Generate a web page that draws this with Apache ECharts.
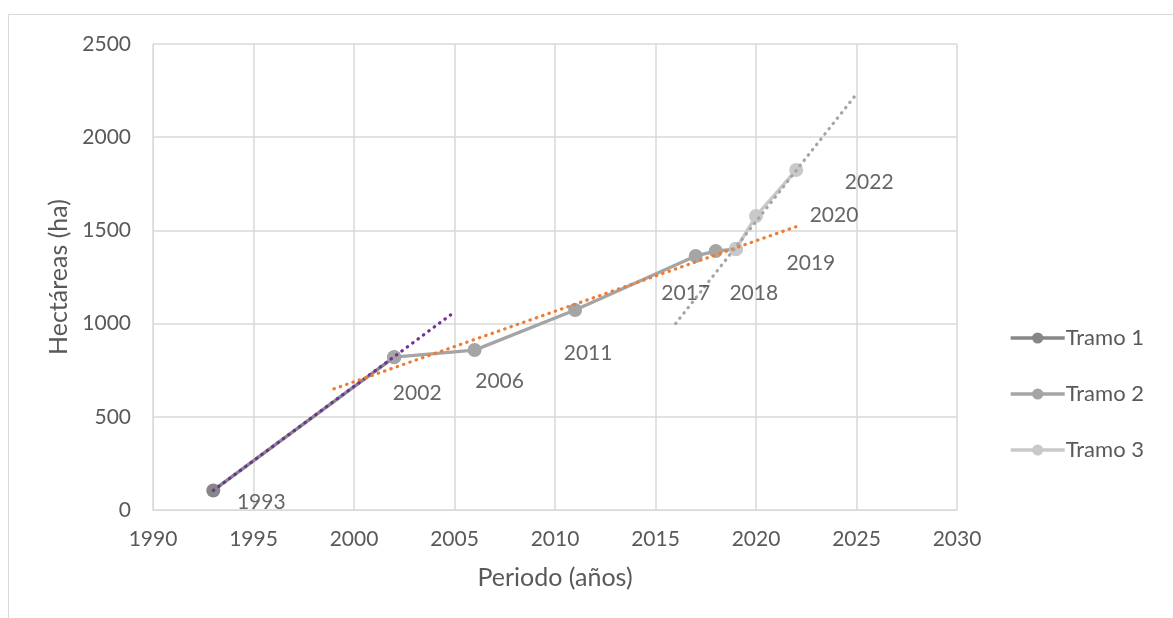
<!DOCTYPE html>
<html>
<head>
<meta charset="utf-8">
<script src="https://cdn.jsdelivr.net/npm/echarts@6/dist/echarts.min.js"></script>
<style>
html,body{margin:0;padding:0;background:#fff;}
#chart{width:1173px;height:618px;}
</style>
</head>
<body>
<div id="chart"></div>
<script>
// Data
const tramo1Years = [1993, 2002];
const tramo1Values = [105, 820];
const tramo2Years = [2002, 2006, 2011, 2017, 2018, 2019];
const tramo2Values = [820, 858, 1073, 1363, 1389, 1400];
const tramo3Years = [2019, 2020, 2022];
const tramo3Values = [1400, 1577, 1824];

// Trend lines (end points)
const trend1 = [[1993, 105], [2005, 1062]];
const trend2 = [[1999, 650], [2022, 1520]];
const trend3 = [[2016, 1000], [2025, 2232]];

// Point labels (years) and their values
const labelYears = [1993, 2002, 2006, 2011, 2017, 2018, 2019, 2020, 2022];
const labelValues = [105, 820, 858, 1073, 1363, 1389, 1400, 1577, 1824];
// label offsets (style)
const labelOffsets = [[48,12],[23,36],[25,31],[13,43],[-10,37],[38,42],[75,14],[78,-1],[73,12]];

const xTicks = [1990, 1995, 2000, 2005, 2010, 2015, 2020, 2025, 2030];
const yTicks = [0, 500, 1000, 1500, 2000, 2500];

const zip = (xs, ys) => xs.map((x, i) => [x, ys[i]]);
const FONT = 'Lato';
const txt = '#595959';

const chart = echarts.init(document.getElementById('chart'), null, {renderer: 'canvas'});

function lineSeries(name, xs, ys, color) {
  return {
    name, type: 'line', data: zip(xs, ys),
    symbol: 'circle', symbolSize: 14,
    itemStyle: {color},
    lineStyle: {color, width: 3.4},
    z: 3
  };
}
function trendSeries(data, color) {
  return {
    type: 'line', data, symbol: 'none', silent: true,
    lineStyle: {color, width: 3.2, type: [0.5, 6.2], cap: 'round'},
    z: 4
  };
}

chart.setOption({
  animation: false,
  backgroundColor: '#fff',
  textStyle: {fontFamily: FONT},
  graphic: [{
    type: 'rect', silent: true,
    shape: {x: 8.5, y: 14.5, width: 1400, height: 900},
    style: {fill: 'none', stroke: '#d9d9d9', lineWidth: 1}
  }],
  grid: {left: 153, top: 44, right: 216, bottom: 108, containLabel: false},
  legend: {
    orient: 'vertical', left: 1004, top: 322,
    data: ['Tramo 1', 'Tramo 2', 'Tramo 3'],
    itemWidth: 54, itemHeight: 14, itemGap: 34,
    lineStyle: {width: 3.4},
    textStyle: {fontFamily: FONT, fontSize: 22, color: txt, padding: [0,0,0,-4]}
  },
  xAxis: {
    type: 'value', min: xTicks[0], max: xTicks[xTicks.length-1], interval: 5,
    name: 'Periodo (años)', nameLocation: 'middle', nameGap: 55,
    nameTextStyle: {fontFamily: FONT, fontSize: 25, color: txt},
    axisLine: {show: true, lineStyle: {color: '#d9d9d9', width: 1}},
    axisTick: {show: false},
    axisLabel: {fontFamily: FONT, fontSize: 21, color: txt, margin: 19,
      formatter: v => String(v)},
    splitLine: {show: true, lineStyle: {color: '#d9d9d9', width: 1.5}}
  },
  yAxis: {
    type: 'value', min: yTicks[0], max: yTicks[yTicks.length-1], interval: 500,
    name: 'Hectáreas (ha)', nameLocation: 'middle', nameGap: 57,
    nameTextStyle: {fontFamily: FONT, fontSize: 25, color: txt},
    axisLine: {show: true, lineStyle: {color: '#d9d9d9', width: 1}},
    axisTick: {show: false},
    axisLabel: {fontFamily: FONT, fontSize: 21, color: txt, margin: 22,
      formatter: v => String(v)},
    splitLine: {show: true, lineStyle: {color: '#d9d9d9', width: 1.5}}
  },
  series: [
    lineSeries('Tramo 1', tramo1Years, tramo1Values, '#878787'),
    lineSeries('Tramo 2', tramo2Years, tramo2Values, '#a5a5a5'),
    lineSeries('Tramo 3', tramo3Years, tramo3Values, '#c9c9c9'),
    trendSeries(trend1, '#7030a0'),
    trendSeries(trend2, '#ed7d31'),
    trendSeries(trend3, '#a5a5a5'),
    {
      type: 'scatter', silent: true, symbolSize: 0, z: 5,
      data: labelYears.map((y, i) => ({
        value: [y, labelValues[i]],
        label: {offset: labelOffsets[i]}
      })),
      label: {show: true, position: 'inside', formatter: p => String(p.value[0]),
        fontFamily: FONT, fontSize: 21, color: '#404040'}
    }
  ]
});
</script>
</body>
</html>
